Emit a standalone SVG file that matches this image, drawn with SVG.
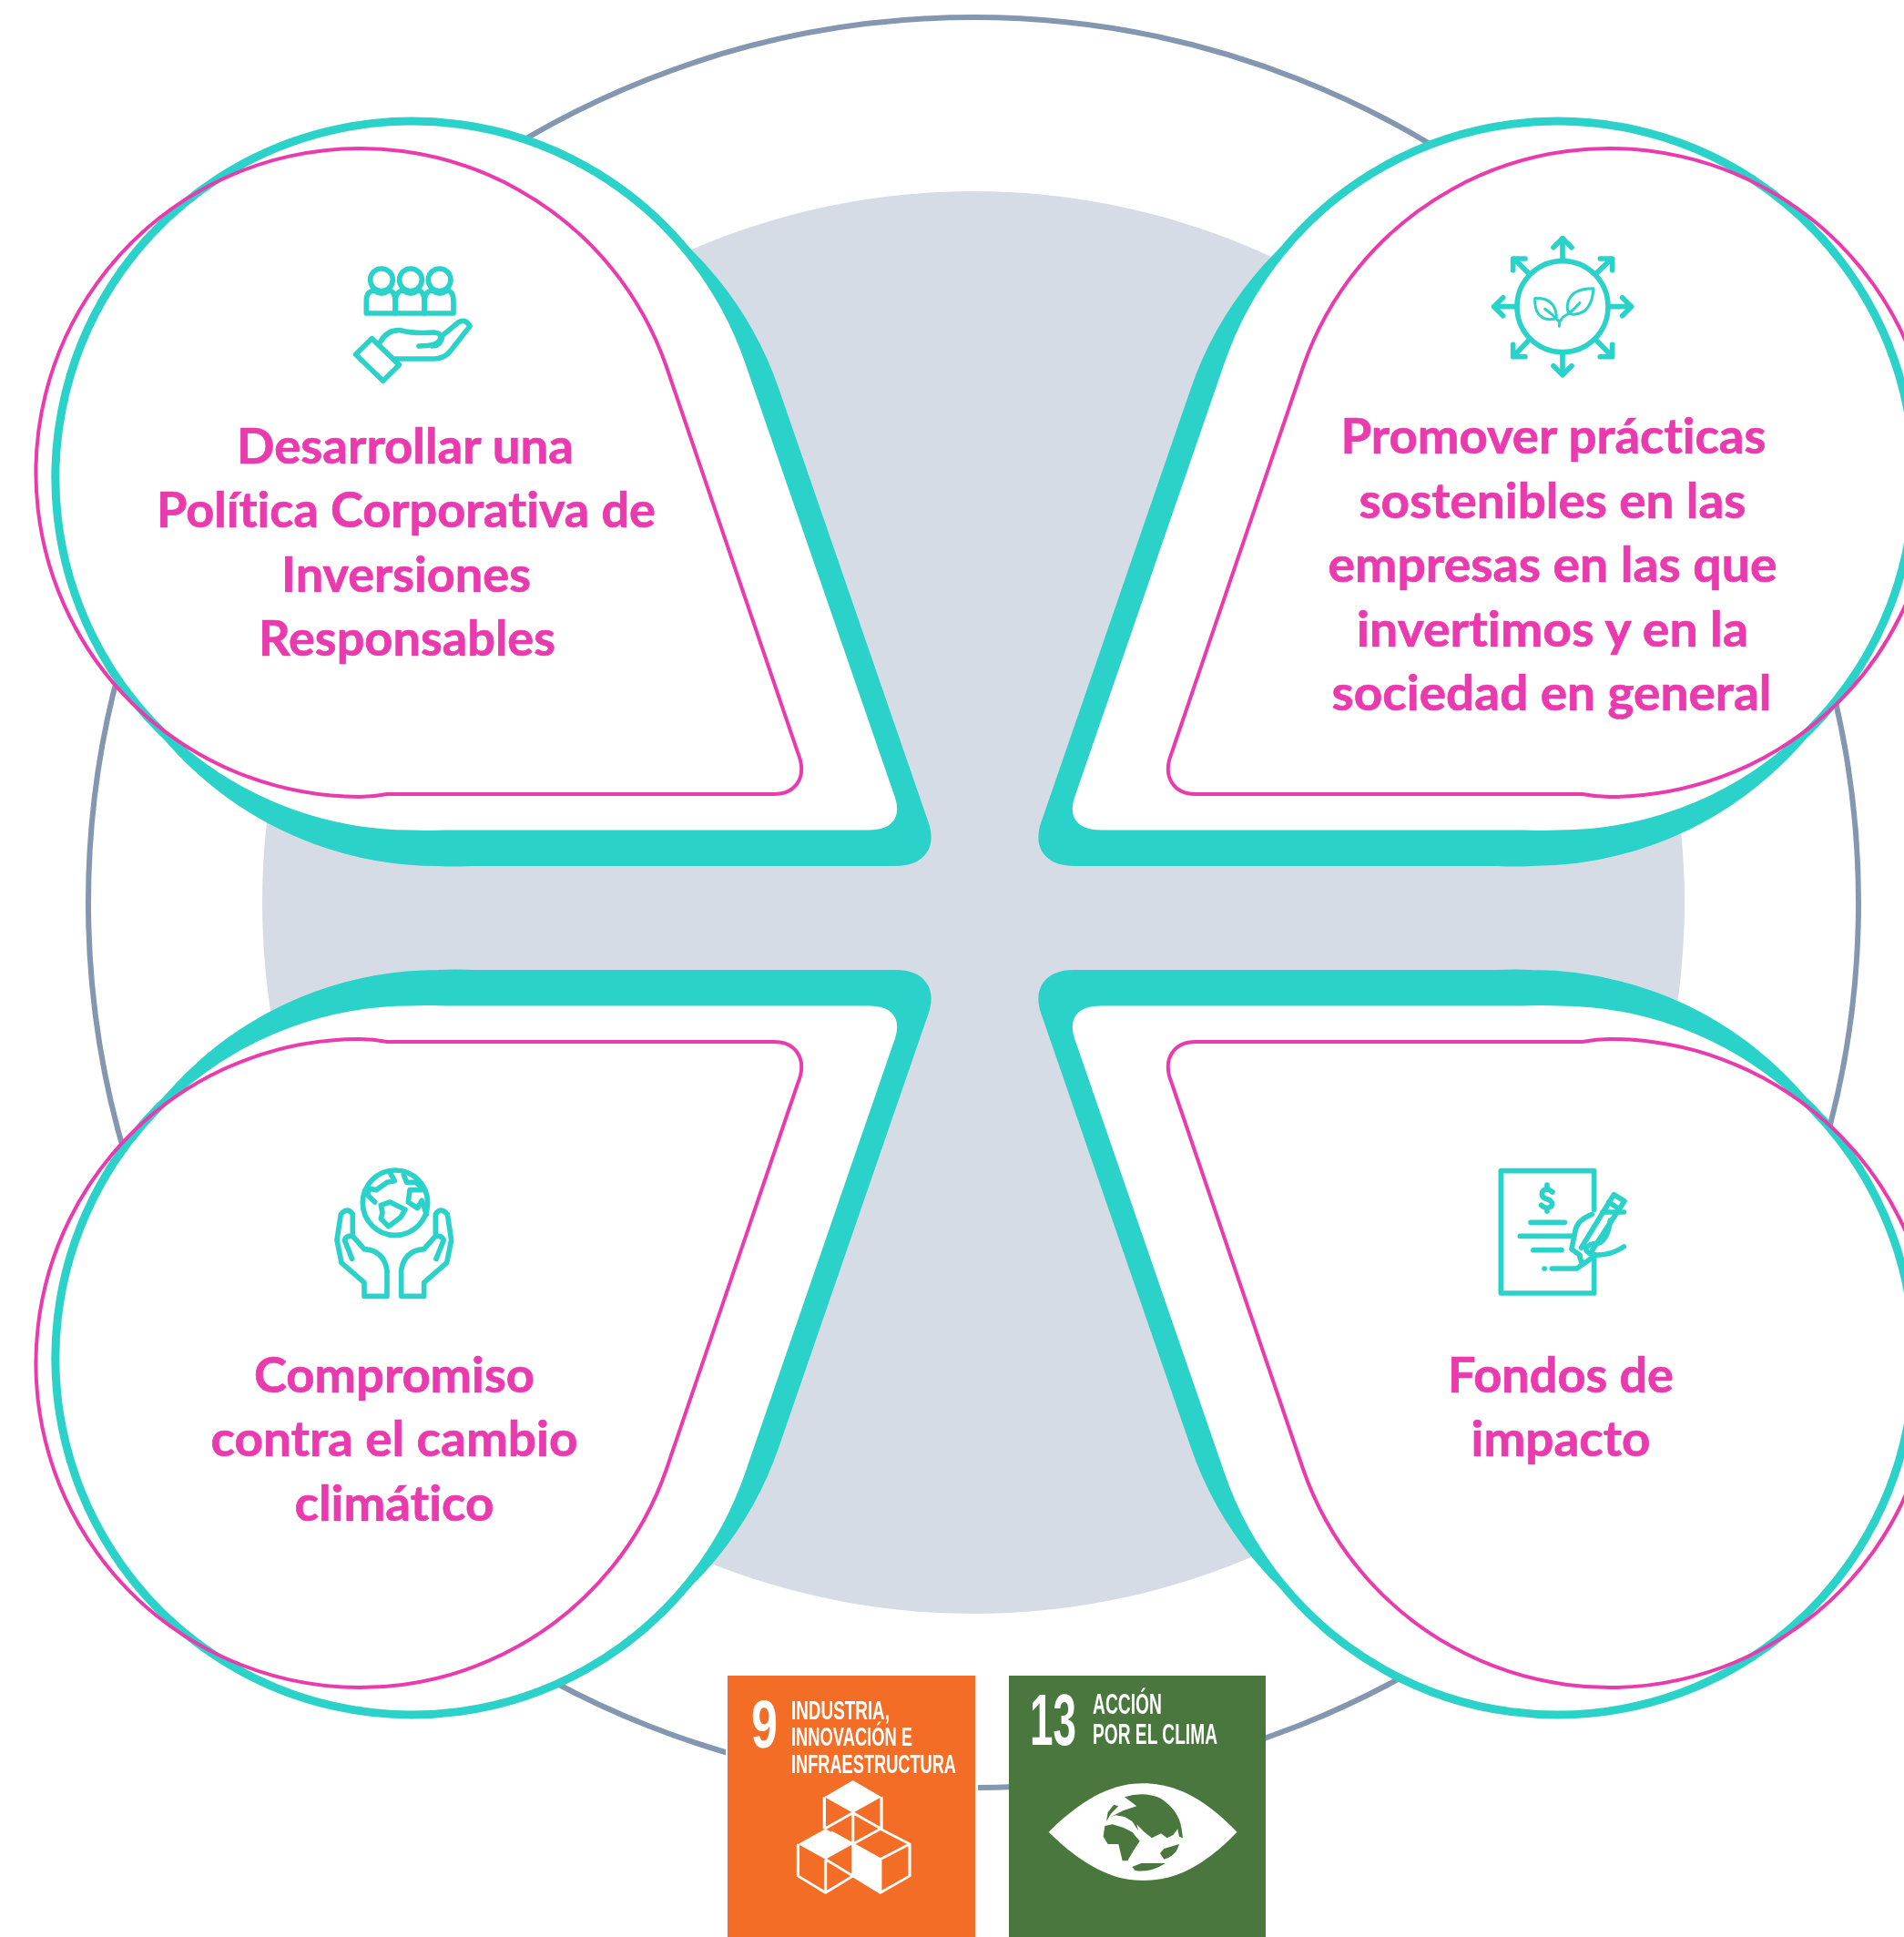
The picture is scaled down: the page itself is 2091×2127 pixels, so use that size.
<svg xmlns="http://www.w3.org/2000/svg" width="2091" height="2127" viewBox="0 0 2091 2127">
<style>
.t{font-family:"Lato","Liberation Sans",sans-serif;font-weight:700;font-size:53px;fill:#ea3aae;stroke:#ea3aae;stroke-width:.7;text-anchor:middle;font-variant-ligatures:none}
.ic{fill:none;stroke:#2cd2c9;stroke-width:17;stroke-linecap:round;stroke-linejoin:round}
.sd{font-family:"Liberation Sans Narrow","Liberation Sans",sans-serif;fill:#fff;font-weight:700}
.cube{fill:none;stroke:#fff;stroke-width:8;stroke-linejoin:round}
.cf{fill:#fff}
</style>
<defs>
<path id="tealShape" d="M822.5,397 L985,868 C998,900 982,916 954,916 H490 Q470,917 452.5,916 A391.5,391.5 0 1 1 822.5,397 Z"/>
<path id="pinkShape" d="M732,403 L876,826 C888,855 872,872 850,872 H425 Q410,875 395,875 A356,356 0 1 1 732,403 Z"/>
<g id="petal">
<use href="#tealShape" transform="translate(29,31)" fill="#2cd2c9" stroke="#2cd2c9" stroke-width="8"/>
<use href="#pinkShape" fill="#fff"/>
<use href="#tealShape" fill="#fff" stroke="#2cd2c9" stroke-width="9"/>
<use href="#pinkShape" fill="none" stroke="#ea3aae" stroke-width="4"/>
</g>
<path id="person" d="M222,222 H127 V182 Q127,150 152,147 Q177,165 202,147 Q222,150 222,182 Z"/>
<filter id="soft" x="-2%" y="-2%" width="104%" height="104%"><feGaussianBlur stdDeviation="0.7"/></filter>
</defs>
<rect width="2091" height="2127" fill="#fff"/>
<g id="background">
<circle cx="1069" cy="991" r="972" fill="#fff" stroke="#8497b0" stroke-width="6"/>
<circle cx="1069" cy="991" r="781" fill="#d6dce5"/>
</g>
<g id="connectors"></g>

<g id="node-top-left" filter="url(#soft)">
<use href="#petal"/>
<g class="ic" transform="translate(360,270) scale(.3333)">
<circle cx="177" cy="112" r="37"/><circle cx="273" cy="112" r="37"/><circle cx="368" cy="112" r="37"/>
<use href="#person"/><use href="#person" x="96"/><use href="#person" x="192"/>
<path d="M145,305 L235,392 L182,445 L92,358 Z"/>
<path d="M172,318 Q195,275 240,278 Q285,290 350,285 Q372,287 372,302 Q368,330 300,330 M345,330 Q372,330 378,295 L430,252 Q455,238 468,265 L405,345 Q385,372 350,372 H222"/>
</g>
<text class="t" x="445" y="509" textLength="370" lengthAdjust="spacingAndGlyphs">Desarrollar una</text>
<text class="t" x="446" y="579" textLength="548" lengthAdjust="spacingAndGlyphs">Política Corporativa de</text>
<text class="t" x="446" y="650" textLength="274" lengthAdjust="spacingAndGlyphs">Inversiones</text>
<text class="t" x="447" y="720" textLength="326" lengthAdjust="spacingAndGlyphs">Responsables</text>
</g>

<g id="node-top-right" filter="url(#soft)">
<use href="#petal" transform="matrix(-1 0 0 1 2163 0)"/>
<g class="ic" transform="translate(1620,240) scale(.3333)">
<circle cx="288" cy="290" r="150"/>
<path d="M288,135 V65 M258,95 L288,65 L318,95 M288,445 V515 M258,485 L288,515 L318,485 M135,290 H62 M92,260 L62,290 L92,320 M441,290 H515 M485,260 L515,290 L485,320"/>
<path d="M178,182 L128,132 M165,132 H125 V170 M398,182 L450,132 M412,132 H452 V170 M178,400 L128,452 M165,455 H125 V415 M398,400 L450,452 M412,455 H452 V415"/>
<g style="stroke-width:9"><path d="M390,230 Q315,230 305,280 Q298,320 330,315 Q385,310 390,230 Z M197,263 Q262,260 268,320 Q270,335 240,332 Q195,325 197,263 Z M277,355 Q275,330 305,315 Q325,300 345,278 M230,298 Q255,315 277,340"/></g>
</g>
<text class="t" x="1706" y="498" textLength="467" lengthAdjust="spacingAndGlyphs">Promover prácticas</text>
<text class="t" x="1705" y="569" textLength="425" lengthAdjust="spacingAndGlyphs">sostenibles en las</text>
<text class="t" x="1705" y="639" textLength="493" lengthAdjust="spacingAndGlyphs">empresas en las que</text>
<text class="t" x="1705" y="710" textLength="430" lengthAdjust="spacingAndGlyphs">invertimos y en la</text>
<text class="t" x="1704" y="780" textLength="483" lengthAdjust="spacingAndGlyphs">sociedad en general</text>
</g>

<g id="node-bottom-left" filter="url(#soft)">
<use href="#petal" transform="matrix(1 0 0 -1 0 2016)"/>
<g class="ic" transform="translate(350,1265) scale(.3333)">
<circle cx="252" cy="167" r="107"/>
<path d="M235,68 L250,95 L225,100 L190,125 L168,120 L160,140 L185,165 M280,75 L290,100 L320,100 L345,120 M345,125 L300,125 L295,165 L325,185 L340,160 L355,205 M205,175 L235,165 L285,190 L270,215 L230,245 L205,220 L210,200 Z"/>
<path d="M225,475 V390 Q215,325 150,320 L115,280 Q95,270 85,290 L110,352 M225,475 H150 V430 L75,365 L60,290 L73,205 Q95,180 112,205 V275"/>
<path transform="matrix(-1 0 0 1 497 0)" d="M225,475 V390 Q215,325 150,320 L115,280 Q95,270 85,290 L110,352 M225,475 H150 V430 L75,365 L60,290 L73,205 Q95,180 112,205 V275"/>
</g>
<text class="t" x="433" y="1529" textLength="308" lengthAdjust="spacingAndGlyphs">Compromiso</text>
<text class="t" x="433" y="1599" textLength="403" lengthAdjust="spacingAndGlyphs">contra el cambio</text>
<text class="t" x="433" y="1670" textLength="219" lengthAdjust="spacingAndGlyphs">climático</text>
</g>

<g id="node-bottom-right" filter="url(#soft)">
<use href="#petal" transform="matrix(-1 0 0 -1 2163 2016)"/>
<g class="ic" transform="translate(1620,1265) scale(.3333)">
<path d="M392,190 V62 H85 V465 H392 V345"/>
<path d="M255,132 Q235,115 222,130 Q215,150 237,155 Q262,165 250,180 Q235,190 218,175 M237,108 V122 M237,185 V195"/>
<path d="M183,232 H295 M148,277 H325 M192,323 H285 M228,384 H229 M253,384 H335 L380,352 M345,345 L352,368"/>
<path d="M350,315 L457,140 L492,162 L385,325 M440,165 L475,188"/>
<path d="M385,205 Q335,225 330,260 L318,320 L345,340 M490,198 H420 M490,312 Q440,345 385,338 Q365,330 365,318 Q375,300 410,300 Q440,280 445,225"/>
</g>
<text class="t" x="1714" y="1529" textLength="248" lengthAdjust="spacingAndGlyphs">Fondos de</text>
<text class="t" x="1714" y="1599" textLength="197" lengthAdjust="spacingAndGlyphs">impacto</text>
</g>

<g id="node-sdg9" filter="url(#soft)">
<rect x="797" y="1838" width="277" height="289" fill="#fff"/>
<rect x="799" y="1840" width="272" height="287" fill="#f36d25"/>
<text class="sd" x="825" y="1919" font-size="74" textLength="29" lengthAdjust="spacingAndGlyphs">9</text>
<text class="sd" x="869" y="1888" font-size="29" textLength="108" lengthAdjust="spacingAndGlyphs">INDUSTRIA,</text>
<text class="sd" x="869" y="1917" font-size="29" textLength="133" lengthAdjust="spacingAndGlyphs">INNOVACIÓN E</text>
<text class="sd" x="869" y="1947" font-size="29" textLength="181" lengthAdjust="spacingAndGlyphs">INFRAESTRUCTURA</text>
<g transform="translate(780,1820) scale(.4018,.3333)">
<path class="cf" d="M390,405 L468,460 L390,512 L312,460 Z M315,565 L390,615 L315,665 L240,615 Z M390,615 L465,665 V775 L390,720 Z"/>
<path class="cube" d="M312,460 V565 M468,460 V565 M390,512 V720 M312,565 L390,512 L468,565 M330,575 L390,615 L465,565 L545,615 L465,665 L390,615 M240,615 V720 L315,775 L390,720 L465,775 L545,720 V615 M315,665 V775 M315,665 L390,720 M465,665 V775"/>
</g>
</g>

<g id="node-sdg13" filter="url(#soft)">
<rect x="1108" y="1840" width="282" height="287" fill="#48773c"/>
<text style="font-family:'Liberation Sans',sans-serif" fill="#fff" font-weight="700" font-size="80" transform="translate(1131,1916) scale(.573,1)">13</text>
<text class="sd" x="1200" y="1882" font-size="31" textLength="76" lengthAdjust="spacingAndGlyphs">ACCIÓN</text>
<text class="sd" x="1200" y="1915" font-size="31" textLength="137" lengthAdjust="spacingAndGlyphs">POR EL CLIMA</text>
<path fill="#fff" transform="translate(780,1820) scale(.4018,.3333)" d="M925,575 C1030,450 1110,415 1183,415 C1260,415 1340,450 1440,575 C1340,700 1260,735 1183,735 C1110,735 1030,700 925,575 Z"/>
<path fill="#48773c" transform="translate(1200,1950) scale(.3333)" d="M105,70 Q170,50 225,75 Q285,115 293,175 L297,205 L285,200 L280,175 L265,195 L245,205 L225,190 L195,205 L170,185 L145,160 L150,180 L130,150 L105,135 L75,130 L60,135 L100,115 L145,100 L125,85 Z M70,95 L85,100 L60,125 L45,150 L50,120 Z M40,165 L65,160 L100,170 L130,185 L155,215 L135,245 L115,280 L98,280 L85,225 L50,225 L35,200 Z M235,240 L285,225 Q275,265 235,275 L222,255 Z M130,300 L160,288 L240,288 Q190,320 140,312 Z"/>
</g>
</svg>
